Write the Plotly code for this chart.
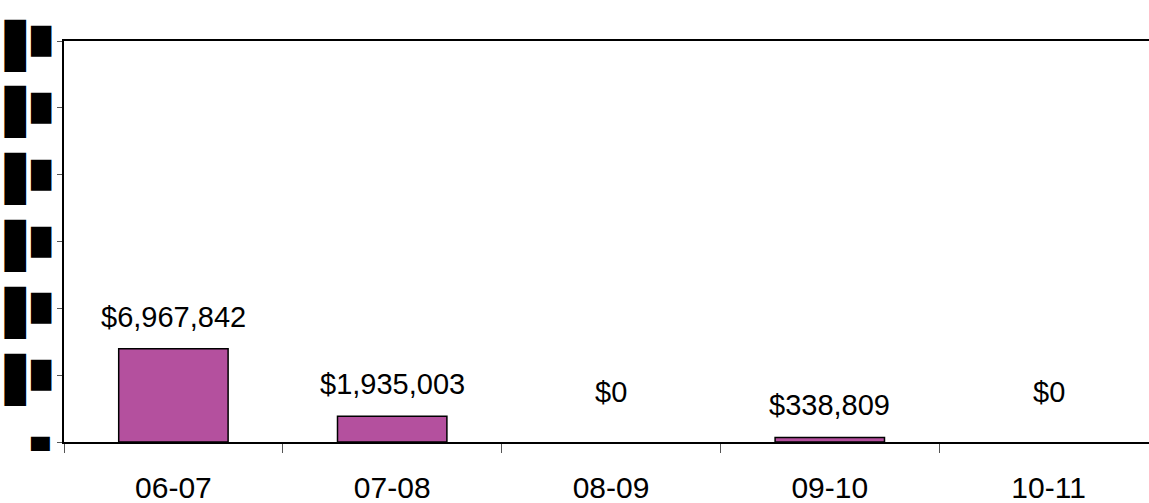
import plotly.graph_objects as go

categories = ["06-07", "07-08", "08-09", "09-10", "10-11"]
values = [6967842, 1935003, 0, 338809, 0]
value_labels = ["$6,967,842", "$1,935,003", "$0", "$338,809", "$0"]
y_tickvals = [0, 5000000, 10000000, 15000000, 20000000, 25000000, 30000000]

W, H = 1149, 503
L, T, B = 64, 41, 61
plot_w = W - L

fig = go.Figure()
fig.add_trace(go.Bar(
    x=categories, y=values, width=0.5,
    marker=dict(color="#B4509E",
                line=dict(color="black", width=[1.5 if v else 0 for v in values])),
    hoverinfo="skip",
))

annotations = []
for c, v, lab in zip(categories, values, value_labels):
    annotations.append(dict(
        x=c, y=v, xref="x", yref="y", text=lab, showarrow=False,
        yanchor="middle", yshift=(50 if v == 0 else 32),
        font=dict(family="Liberation Sans, Arial", size=29, color="black"),
    ))

# y tick labels (rendered as solid blocks in the reference)
def px_to_paper_x(px):
    return (px - L) / plot_w

for tv in y_tickvals:
    if tv == 0:
        annotations.append(dict(
            x=px_to_paper_x(40), y=tv, xref="paper", yref="y", text="▄",
            showarrow=False, xanchor="center", yanchor="middle", yshift=5,
            font=dict(family="DejaVu Sans", size=24, color="black"),
        ))
    else:
        annotations.append(dict(
            x=px_to_paper_x(21.5), y=tv, xref="paper", yref="y", text="▋",
            showarrow=False, xanchor="center", yanchor="middle", yshift=-4,
            font=dict(family="DejaVu Sans", size=44, color="black"),
        ))
        annotations.append(dict(
            x=px_to_paper_x(40.5), y=tv, xref="paper", yref="y", text="█",
            showarrow=False, xanchor="center", yanchor="middle",
            font=dict(family="DejaVu Sans", size=26, color="black"),
        ))

x_end = 4.5 - (1158 - W) / 219.0

fig.update_layout(
    width=W, height=H,
    margin=dict(l=L, r=0, t=T, b=B, pad=0, autoexpand=False),
    plot_bgcolor="white", paper_bgcolor="white",
    showlegend=False,
    annotations=annotations,
    xaxis=dict(
        type="category", automargin=False,
        range=[-0.5, x_end], showline=True, linecolor="black", linewidth=1.5,
        mirror=True, ticks="outside", tickson="boundaries", ticklen=9,
        tickcolor="#555555", tickwidth=1, ticklabelstandoff=18,
        tickfont=dict(family="Liberation Sans, Arial", size=30, color="black"),
        showgrid=False, zeroline=False,
    ),
    yaxis=dict(
        automargin=False,
        range=[0, 30000000], tickvals=y_tickvals, showticklabels=False,
        showline=True, linecolor="black", linewidth=1.5,
        ticks="outside", ticklen=5, tickcolor="#555555", tickwidth=1,
        showgrid=False, zeroline=False,
    ),
)

fig.write_html("out.html", config={"displayModeBar": False},
               post_script="document.body.style.margin='0';")
